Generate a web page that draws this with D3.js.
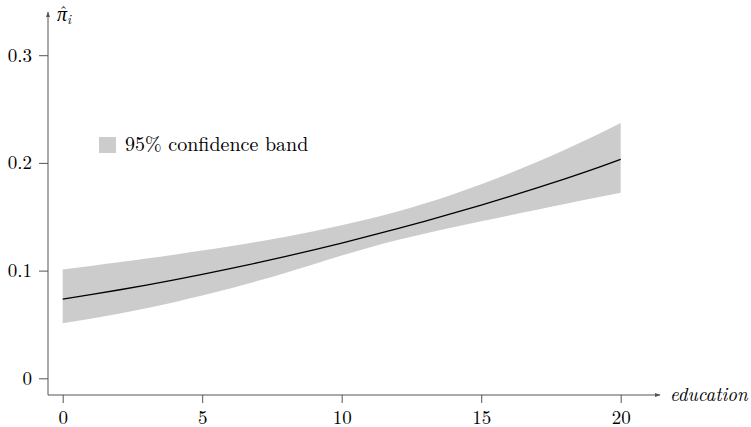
<!DOCTYPE html>
<html><head><meta charset="utf-8">
<script src="https://cdn.jsdelivr.net/npm/d3@7"></script>
<style>
body{margin:0;background:#fff;}
svg text{font-family:"Latin Modern Roman","CMU Serif","Liberation Serif",serif;fill:#000;}
</style></head>
<body><svg id="c" width="751" height="427"></svg>
<script>
const education = [0,1,2,3,4,5,6,7,8,9,10,11,12,13,14,15,16,17,18,19,20];
const fitted = [0.0736,0.0777,0.0820,0.0866,0.0914,0.0964,0.1018,0.1074,0.1132,0.1193,0.1256,0.1322,0.1390,0.1460,0.1533,0.1608,0.1686,0.1767,0.1851,0.1939,0.2033];
const upper  = [0.1010,0.1043,0.1077,0.1112,0.1148,0.1186,0.1226,0.1269,0.1315,0.1365,0.1420,0.1481,0.1549,0.1625,0.1709,0.1801,0.1901,0.2008,0.2122,0.2243,0.2370];
const lower  = [0.0510,0.0553,0.0600,0.0651,0.0707,0.0768,0.0834,0.0905,0.0981,0.1060,0.1140,0.1215,0.1283,0.1345,0.1403,0.1458,0.1512,0.1565,0.1618,0.1671,0.1724];
const xTicks = [0,5,10,15,20];
const yTicks = [0,0.1,0.2,0.3];
const legendLabel = "95% confidence band";

const svg = d3.select("#c");
const x = d3.scaleLinear().domain([0,20]).range([62.7,620.7]);
const y = d3.scaleLinear().domain([0,0.3]).range([378.3,55.2]);
const axisX0 = 48, axisY0 = 395;
const axisCol = "#555";

const rows = education.map((e,i)=>({e, f:fitted[i], u:upper[i], l:lower[i]}));

svg.append("path").datum(rows)
  .attr("fill","#cccccc")
  .attr("d", d3.area().x(d=>x(d.e)).y0(d=>y(d.l)).y1(d=>y(d.u)).curve(d3.curveMonotoneX));

svg.append("path").datum(rows)
  .attr("fill","none").attr("stroke","#000").attr("stroke-width",1.3)
  .attr("d", d3.line().x(d=>x(d.e)).y(d=>y(d.f)).curve(d3.curveMonotoneX));

// axes
const defs = svg.append("defs");
defs.append("marker").attr("id","arr").attr("viewBox","0 0 10 10").attr("refX",9).attr("refY",5)
  .attr("markerWidth",6).attr("markerHeight",6).attr("orient","auto-start-reverse").attr("markerUnits","userSpaceOnUse")
  .append("path").attr("d","M0,1.5 L10,5 L0,8.5 Z").attr("fill",axisCol);

svg.append("line").attr("x1",axisX0).attr("y1",axisY0).attr("x2",660).attr("y2",axisY0)
  .attr("stroke",axisCol).attr("stroke-width",1).attr("marker-end","url(#arr)");
svg.append("line").attr("x1",axisX0).attr("y1",axisY0).attr("x2",axisX0).attr("y2",12)
  .attr("stroke",axisCol).attr("stroke-width",1).attr("marker-end","url(#arr)");

const gx = svg.append("g").attr("transform",`translate(0,${axisY0})`)
  .call(d3.axisBottom(x).tickValues(xTicks).tickSize(8).tickPadding(7.5).tickFormat(d3.format("d")));
const gy = svg.append("g").attr("transform",`translate(${axisX0},0)`)
  .call(d3.axisLeft(y).tickValues(yTicks).tickSize(9).tickPadding(7).tickFormat(d=> d===0?"0":d3.format(".1f")(d)));
[gx,gy].forEach(g=>{
  g.select(".domain").remove();
  g.selectAll(".tick line").attr("stroke",axisCol);
  g.selectAll(".tick text").attr("font-size",19).attr("font-family",null).attr("fill","#000");
});

// axis titles
svg.append("text").attr("x",670).attr("y",401).attr("font-size",19).attr("font-style","italic").text("education");
const yl = svg.append("text").attr("x",57).attr("y",21).attr("font-size",20).attr("font-style","italic");
yl.append("tspan").text("π");
yl.append("tspan").attr("font-size",13).attr("dy",3).text("i");
svg.append("text").attr("x",63.5).attr("y",17).attr("font-size",15).attr("text-anchor","middle").text("ˆ");

// legend
svg.append("rect").attr("x",99).attr("y",137).attr("width",17).attr("height",16).attr("fill","#cccccc");
svg.append("text").attr("x",125).attr("y",151).attr("font-size",20).text(legendLabel);
</script></body></html>
